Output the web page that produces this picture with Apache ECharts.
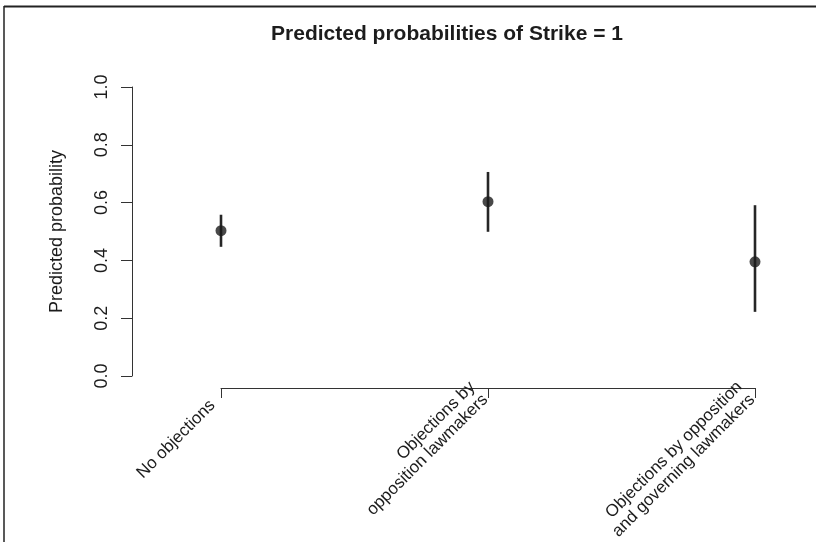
<!DOCTYPE html>
<html>
<head>
<meta charset="utf-8">
<script src="https://cdn.jsdelivr.net/npm/echarts@6/dist/echarts.min.js"></script>
<style>
html,body{margin:0;padding:0;background:#fff;}
#chart{width:816px;height:542px;}
</style>
</head>
<body>
<div id="chart"></div>
<script>
const categories = ["No objections", "Objections by\nopposition lawmakers", "Objections by opposition\nand governing lawmakers"];
const estimates = [0.503, 0.603, 0.395];
const lowerCI = [0.447, 0.499, 0.222];
const upperCI = [0.558, 0.706, 0.591];
const yTicks = [0, 0.2, 0.4, 0.6, 0.8, 1.0];

const FONT = "'Liberation Sans', Arial, Helvetica, sans-serif";
const INK = "#1c1c1c";

const chart = echarts.init(document.getElementById('chart'));
const option = {
  backgroundColor: '#fff',
  animation: false,
  title: {
    text: 'Predicted probabilities of Strike = 1',
    left: 442, top: 19,
    textAlign: 'center',
    textStyle: {fontFamily: FONT, fontSize: 21, fontWeight: 'bold', color: INK}
  },
  grid: {left: 221, right: 61, top: 87, bottom: 166, containLabel: false, outerBoundsMode: 'none'},
  xAxis: {
    type: 'category',
    data: categories,
    boundaryGap: false,
    offset: 12,
    axisLine: {onZero: false, lineStyle: {color: '#333', width: 1}},
    axisTick: {show: true, length: 10, lineStyle: {color: '#333'}},
    axisLabel: {
      rotate: 45, interval: 0, margin: 19,
      fontFamily: FONT, fontSize: 17, color: INK, lineHeight: 18,
      align: 'right', verticalAlign: 'bottom',
      padding: [0, -5, 0, 0],
      formatter: v => (v.indexOf('\n') >= 0 ? v : v + '{sp| }'),
      rich: {sp: {width: 8, fontFamily: FONT, fontSize: 17, lineHeight: 18}}
    },
    splitLine: {show: false}
  },
  yAxis: {
    type: 'value',
    min: 0, max: 1, interval: 0.2,
    offset: 89,
    name: 'Predicted probability',
    nameLocation: 'middle',
    nameGap: 66,
    nameTextStyle: {fontFamily: FONT, fontSize: 18, color: INK},
    axisLine: {show: true, lineStyle: {color: '#333', width: 1}},
    axisTick: {show: true, length: 11, lineStyle: {color: '#333'}},
    axisLabel: {
      rotate: 90, margin: 21,
      fontFamily: FONT, fontSize: 18, color: INK,
      formatter: v => { const t = yTicks.find(x => Math.abs(x - v) < 1e-9); return (t === undefined ? v : t).toFixed(1); }
    },
    splitLine: {show: false}
  },
  graphic: [
    {type: 'line', shape: {x1: 4, y1: 6.5, x2: 816, y2: 6.5}, style: {stroke: '#222', lineWidth: 2}},
    {type: 'line', shape: {x1: 4, y1: 6, x2: 4, y2: 542}, style: {stroke: '#222', lineWidth: 1.5}}
  ],
  series: [
    {
      type: 'custom',
      data: categories.map((c, i) => [i, lowerCI[i], upperCI[i]]),
      renderItem: function (params, api) {
        const p1 = api.coord([api.value(0), api.value(1)]);
        const p2 = api.coord([api.value(0), api.value(2)]);
        return {
          type: 'line',
          shape: {x1: p1[0], y1: p1[1], x2: p2[0], y2: p2[1]},
          style: {stroke: '#262626', lineWidth: 2.6}
        };
      },
      z: 2
    },
    {
      type: 'scatter',
      data: categories.map((c, i) => [i, estimates[i]]),
      symbol: 'circle',
      symbolSize: 11,
      itemStyle: {color: INK},
      z: 3
    }
  ]
};
chart.setOption(option);
</script>
</body>
</html>
